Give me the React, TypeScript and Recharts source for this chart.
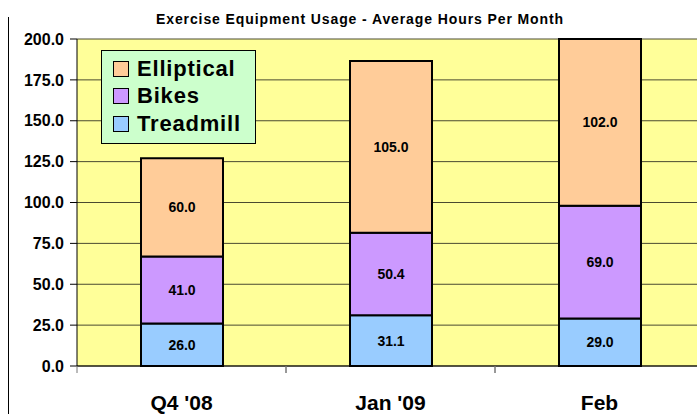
import React from 'react';
import { BarChart, Bar, XAxis, YAxis, CartesianGrid, LabelList, Legend } from 'recharts';

const categories = ["Q4 '08", "Jan '09", 'Feb'];
const treadmill = [26.0, 31.1, 29.0];
const bikes = [41.0, 50.4, 69.0];
const elliptical = [60.0, 105.0, 102.0];
const yTicks = [0, 25, 50, 75, 100, 125, 150, 175, 200];
const legendOrder = ['Elliptical', 'Bikes', 'Treadmill'];

const data = categories.map((name, i) => ({
  name,
  Treadmill: treadmill[i],
  Bikes: bikes[i],
  Elliptical: elliptical[i],
}));

const FONT = '"Liberation Sans", Arial, sans-serif';
const CHART_W = 720;
const CHART_H = 414;
const Y_W = 77;
const RIGHT = 16;
const PLOT_TOP = 39;
const X_H = 48;
const PLOT_BOTTOM = CHART_H - X_H;
const BAND = (CHART_W - Y_W - RIGHT) / categories.length;

// x labels at band centre, small tick marks at band edges
const XTick = ({ x, payload }: { x: number; payload: { value: string } }) => (
  <g>
    <line x1={x - BAND / 2} x2={x - BAND / 2} y1={PLOT_BOTTOM} y2={PLOT_BOTTOM + 7} stroke="#777" />
    <line x1={x + BAND / 2} x2={x + BAND / 2} y1={PLOT_BOTTOM} y2={PLOT_BOTTOM + 7} stroke="#777" />
    <text
      x={x}
      y={PLOT_BOTTOM + 44}
      textAnchor="middle"
      fontFamily={FONT}
      fontWeight="bold"
      fontSize={21}
      fill="#000"
    >
      {payload.value}
    </text>
  </g>
);

const LegendBox = ({ payload }: { payload?: Array<{ value: string; color: string }> }) => {
  const items = legendOrder
    .map((name) => (payload || []).find((p) => p.value === name))
    .filter(Boolean) as Array<{ value: string; color: string }>;
  return (
    <div
      style={{
        background: '#CCFFCC',
        border: '1px solid #000',
        width: 153,
        height: 88,
        boxSizing: 'content-box',
        paddingTop: 4,
      }}
    >
      {items.map((item) => (
        <div key={item.value} style={{ display: 'flex', alignItems: 'center', height: 27.5 }}>
          <span
            style={{
              display: 'inline-block',
              width: 14,
              height: 14,
              background: item.color,
              border: '1px solid #000',
              marginLeft: 11,
              marginRight: 8,
            }}
          />
          <span
            style={{
              fontFamily: FONT,
              fontWeight: 'bold',
              fontSize: 22,
              letterSpacing: 0.8,
              color: '#000',
            }}
          >
            {item.value}
          </span>
        </div>
      ))}
    </div>
  );
};

const fmt = (v: number) => Number(v).toFixed(1);

export default function App() {
  return (
    <div
      style={{
        position: 'fixed',
        left: 0,
        top: 0,
        width: 697,
        height: 414,
        overflow: 'hidden',
        background: '#fff',
      }}
    >
      <div style={{ position: 'absolute', left: 8, top: 17, width: 1, height: 397, background: '#000' }} />
      <div
        style={{
          position: 'absolute',
          left: 0,
          width: 720,
          top: 11,
          textAlign: 'center',
          fontFamily: FONT,
          fontWeight: 'bold',
          fontSize: 14,
          letterSpacing: 0.9,
          color: '#000',
        }}
      >
        Exercise Equipment Usage - Average Hours Per Month
      </div>
      <BarChart
        width={CHART_W}
        height={CHART_H}
        data={data}
        margin={{ top: PLOT_TOP, right: RIGHT, bottom: 0, left: 0 }}
        barSize={82}
      >
        <CartesianGrid vertical={false} stroke="#4a4a30" fill="#FFFF99" />
        <XAxis
          dataKey="name"
          height={X_H}
          axisLine={{ stroke: '#000' }}
          tickLine={false}
          tick={(props: any) => <XTick {...props} />}
        />
        <YAxis
          width={Y_W}
          domain={[0, 200]}
          ticks={yTicks}
          interval={0}
          tickFormatter={fmt}
          axisLine={{ stroke: '#000' }}
          tickLine={{ stroke: '#000' }}
          tickSize={7}
          tickMargin={6}
          tick={{ fontFamily: FONT, fontWeight: 'bold', fontSize: 16, fill: '#000' }}
        />
        <Legend
          layout="vertical"
          align="center"
          verticalAlign="middle"
          wrapperStyle={{ left: 101, top: 50, width: 155 }}
          content={(props: any) => <LegendBox payload={props.payload} />}
        />
        <Bar dataKey="Treadmill" stackId="a" fill="#99CCFF" stroke="#000" strokeWidth={2} isAnimationActive={false}>
          <LabelList dataKey="Treadmill" position="center" formatter={fmt} fill="#000" fontFamily={FONT} fontWeight="bold" fontSize={14} />
        </Bar>
        <Bar dataKey="Bikes" stackId="a" fill="#CC99FF" stroke="#000" strokeWidth={2} isAnimationActive={false}>
          <LabelList dataKey="Bikes" position="center" formatter={fmt} fill="#000" fontFamily={FONT} fontWeight="bold" fontSize={14} />
        </Bar>
        <Bar dataKey="Elliptical" stackId="a" fill="#FFCC99" stroke="#000" strokeWidth={2} isAnimationActive={false}>
          <LabelList dataKey="Elliptical" position="center" formatter={fmt} fill="#000" fontFamily={FONT} fontWeight="bold" fontSize={14} />
        </Bar>
      </BarChart>
    </div>
  );
}
